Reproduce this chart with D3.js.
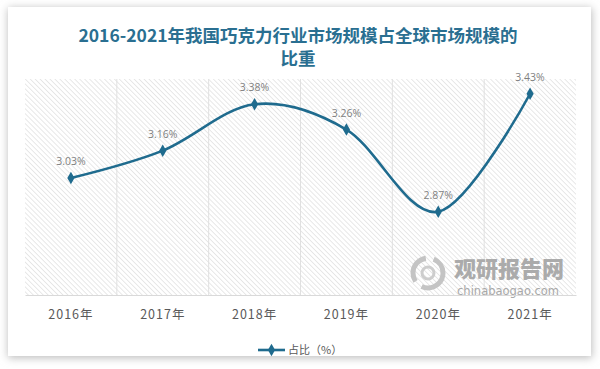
<!DOCTYPE html>
<html><head><meta charset="utf-8">
<script src="https://cdn.jsdelivr.net/npm/d3@7"></script>
<style>html,body{margin:0;padding:0;background:#fff;}svg{display:block;}</style>
</head><body>
<script>
const categories = ["2016年","2017年","2018年","2019年","2020年","2021年"];
const values = [3.03, 3.16, 3.38, 3.26, 2.87, 3.43];
const labels = ["3.03%","3.16%","3.38%","3.26%","2.87%","3.43%"];
const seriesName = "占比（%）";
const titleLines = ["2016-2021年我国巧克力行业市场规模占全球市场规模的","比重"];

const W = 600, H = 369;
const svg = d3.select("body").append("svg").attr("width", W).attr("height", H);
const defs = svg.append("defs");
const f = defs.append("filter").attr("id","sh").attr("x","-10%").attr("y","-10%").attr("width","120%").attr("height","120%");
f.append("feGaussianBlur").attr("stdDeviation", 4);
const pat = defs.append("pattern").attr("id","hatch").attr("patternUnits","userSpaceOnUse")
  .attr("width",3.5).attr("height",3.5).attr("patternTransform","rotate(-45)");
pat.append("rect").attr("width",3.5).attr("height",3.5).attr("fill","#fff");
pat.append("line").attr("x1",0).attr("y1",0).attr("x2",0).attr("y2",3.5).attr("stroke","#d6d6d6").attr("stroke-width",1.1);

// card with shadow
svg.append("rect").attr("x",8).attr("y",8).attr("width",584).attr("height",350).attr("fill","#bdbdbd").attr("filter","url(#sh)");
svg.append("rect").attr("x",8).attr("y",7).attr("width",583).attr("height",349).attr("fill","#fff");

const m = {left:25, right:576, top:79, bottom:295};
const x = d3.scaleBand().domain(categories).range([m.left, m.right]);
const y = d3.scaleLinear().domain([2.475, 3.5]).range([m.bottom, m.top]);

svg.append("rect").attr("x",m.left).attr("y",m.top).attr("width",m.right-m.left).attr("height",m.bottom-m.top).attr("fill","url(#hatch)");

// vertical gridlines
svg.append("g").selectAll("line").data(categories.slice(1)).join("line")
  .attr("x1", d=>x(d)).attr("x2", d=>x(d)).attr("y1", m.top).attr("y2", m.bottom)
  .attr("stroke","#e0e0e0").attr("stroke-width",1);

// watermark
const wm = svg.append("g");
wm.append("circle").attr("cx",428).attr("cy",273).attr("r",15).attr("fill","none").attr("stroke","#c4c4c4").attr("stroke-width",5).attr("stroke-dasharray","30 8");
wm.append("circle").attr("cx",428).attr("cy",273).attr("r",6).attr("fill","none").attr("stroke","#cdcdcd").attr("stroke-width",3);
wm.append("text").attr("x",509).attr("y",277).attr("text-anchor","middle")
  .attr("font-family","'Noto Sans CJK SC'").attr("font-weight",900).attr("font-size",22).attr("fill","#ababab").attr("letter-spacing",0).text("观研报告网");
wm.append("text").attr("x",508).attr("y",295).attr("text-anchor","middle")
  .attr("font-family","'DejaVu Sans'").attr("font-size",11.5).attr("fill","#a8a8a8").text("chinabaogao.com");

// x axis
const xa = svg.append("g").attr("transform",`translate(0,${m.bottom})`).call(d3.axisBottom(x).tickSize(0).tickPadding(15));
xa.select(".domain").attr("stroke","#d9d9d9");
xa.selectAll("text").attr("font-family","'Noto Sans CJK SC'").attr("font-size",12.5).attr("fill","#595959").attr("letter-spacing",1);

// line
const cx = d => x(d) + x.bandwidth()/2;
const line = d3.line().x((d,i)=>cx(categories[i])).y(d=>y(d)).curve(d3.curveCardinal.tension(0));
const color = "#1f6b8e";
svg.append("path").datum(values).attr("d", line).attr("fill","none").attr("stroke",color).attr("stroke-width",2.6);
const diamond = d3.symbol().type(d3.symbolDiamond).size(45);
svg.append("g").selectAll("path").data(values).join("path")
  .attr("transform",(d,i)=>`translate(${cx(categories[i])},${y(d)})`).attr("d", diamond).attr("fill",color);
svg.append("g").selectAll("text").data(values).join("text")
  .attr("x",(d,i)=>cx(categories[i])).attr("y",d=>y(d)-13)
  .attr("text-anchor","middle").attr("font-family","'Open Sans'").attr("font-size",10.5).attr("fill","#7f7f7f")
  .text((d,i)=>labels[i]);

// title
svg.append("g").selectAll("text").data(titleLines).join("text")
  .attr("x",298).attr("y",(d,i)=>42+i*23).attr("text-anchor","middle")
  .attr("font-family","'Noto Sans CJK SC'").attr("font-weight",700).attr("font-size",17.5).attr("fill","#2a6f91")
  .text(d=>d);

// legend
const lg = svg.append("g");
lg.append("line").attr("x1",258).attr("x2",285).attr("y1",350).attr("y2",350).attr("stroke",color).attr("stroke-width",2.6);
lg.append("path").attr("transform","translate(271.5,350)").attr("d",diamond).attr("fill",color);
lg.append("text").attr("x",288).attr("y",354).attr("font-family","'Noto Sans CJK SC'").attr("font-size",11).attr("fill","#595959").text(seriesName);
</script>
</body></html>
